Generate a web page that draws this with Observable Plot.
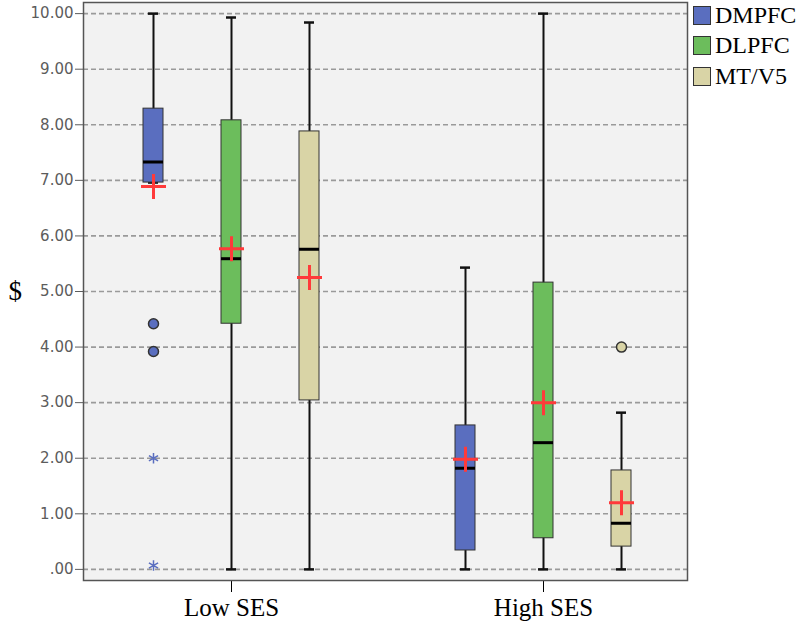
<!DOCTYPE html>
<html>
<head>
<meta charset="utf-8">
<script src="https://cdn.jsdelivr.net/npm/d3@7"></script>
<script src="https://cdn.jsdelivr.net/npm/@observablehq/plot@0.6"></script>
<style>
  html, body { margin: 0; padding: 0; background: #fff; }
  #wrap { position: relative; width: 800px; height: 624px; }
  #legend { position: absolute; left: 693px; top: 0px; font-family: "Liberation Serif", serif; font-size: 24px; color: #000; }
  #legend .item { display: flex; align-items: center; height: 30.5px; white-space: nowrap; }
  #legend .sw { width: 18px; height: 19px; border: 1px solid #333; margin-right: 4px; box-sizing: border-box; flex: none; }
</style>
</head>
<body>
<div id="wrap"><div id="legend"></div></div>
<script>
// ---- data ----
const groups = ["Low SES", "High SES"];
const regions = ["DMPFC", "DLPFC", "MT/V5"];
const regionColors = ["#5a6ebf", "#6cbd5c", "#d9d4a6"];
// box stats, ordered Low SES (DMPFC, DLPFC, MT/V5), High SES (DMPFC, DLPFC, MT/V5)
const whiskerLow  = [6.96, 0.00, 0.00, 0.00, 0.00, 0.00];
const quartile1   = [6.96, 4.42, 3.04, 0.34, 0.56, 0.41];
const medians     = [7.33, 5.59, 5.76, 1.82, 2.28, 0.83];
const quartile3   = [8.29, 8.08, 7.88, 2.59, 5.16, 1.78];
const whiskerHigh = [10.00, 9.93, 9.84, 5.43, 10.00, 2.82];
const means       = [6.89, 5.77, 5.25, 1.98, 3.00, 1.20];
// outliers (circles)
const outlierGroup  = ["Low SES", "Low SES", "High SES"];
const outlierRegion = ["DMPFC", "DMPFC", "MT/V5"];
const outlierValue  = [4.42, 3.92, 4.00];
// extreme values (stars)
const extremeGroup  = ["Low SES", "Low SES"];
const extremeRegion = ["DMPFC", "DMPFC"];
const extremeValue  = [2.00, 0.07];
// y axis ticks
const yTicks = [0, 1, 2, 3, 4, 5, 6, 7, 8, 9, 10];
const yTickLabels = [".00", "1.00", "2.00", "3.00", "4.00", "5.00", "6.00", "7.00", "8.00", "9.00", "10.00"];
const yLabel = "$";

// ---- build tables ----
const keyOf = (g, r) => g + "|" + r;
const boxes = groups.flatMap((g, i) => regions.map((r, j) => {
  const k = i * 3 + j;
  return {group: g, region: r, key: keyOf(g, r), lo: whiskerLow[k], q1: quartile1[k], med: medians[k], q3: quartile3[k], hi: whiskerHigh[k], mean: means[k]};
}));
const outliers = outlierValue.map((v, i) => ({key: keyOf(outlierGroup[i], outlierRegion[i]), region: outlierRegion[i], value: v}));
const extremes = extremeValue.map((v, i) => ({key: keyOf(extremeGroup[i], extremeRegion[i]), region: extremeRegion[i], value: v}));
const xDomain = [...regions.map(r => keyOf(groups[0], r)), "gap", ...regions.map(r => keyOf(groups[1], r))];
const groupTicks = groups.map(g => keyOf(g, regions[1]));

const cross = {
  draw(ctx, size) {
    const r = Math.sqrt(size / Math.PI);
    ctx.moveTo(-r, 0); ctx.lineTo(r, 0);
    ctx.moveTo(0, -r); ctx.lineTo(0, r);
  }
};

const chart = Plot.plot({
  width: 800,
  height: 624,
  marginLeft: 83,
  marginRight: 113,
  marginTop: 2,
  marginBottom: 44,
  style: {background: "transparent", overflow: "visible"},
  x: {type: "band", domain: xDomain, paddingInner: 0.745, paddingOuter: 0.728, align: 0.52, axis: null},
  y: {domain: [-0.2, 10.2], axis: null},
  color: {domain: regions, range: regionColors},
  marks: [
    Plot.frame({fill: "#f2f2f2", stroke: "none"}),
    Plot.ruleY(yTicks, {stroke: "#9a9a9a", strokeWidth: 1.6, strokeDasharray: "5,3"}),
    Plot.ruleX(boxes, {x: "key", y1: "lo", y2: "hi", stroke: "#111", strokeWidth: 2}),
    Plot.tickY(boxes, {x: "key", y: "lo", stroke: "#111", strokeWidth: 2.5, insetLeft: 5, insetRight: 5}),
    Plot.tickY(boxes, {x: "key", y: "hi", stroke: "#111", strokeWidth: 2.5, insetLeft: 5, insetRight: 5}),
    Plot.barY(boxes, {x: "key", y1: "q1", y2: "q3", fill: "region", stroke: "#333", strokeWidth: 1}),
    Plot.tickY(boxes, {x: "key", y: "med", stroke: "#000", strokeWidth: 3}),
    Plot.dot(outliers, {x: "key", y: "value", fill: "region", stroke: "#333", strokeWidth: 1.5, r: 5}),
    Plot.dot(extremes, {x: "key", y: "value", symbol: "asterisk", stroke: regionColors[0], strokeWidth: 1.5, r: 5}),
    Plot.dot(boxes, {x: "key", y: "mean", symbol: cross, r: 12.5, fill: "none", stroke: "#ff3a3a", strokeWidth: 3}),
    Plot.axisY({ticks: yTicks, tickFormat: d => yTickLabels[yTicks.indexOf(d)], tickSize: 8, tickPadding: 2, fontSize: 15, fontFamily: "DejaVu Sans", color: "#5c5c5c", label: null}),
    Plot.axisX({ticks: groupTicks, tickFormat: k => k.split("|")[0], tickSize: 12, tickPadding: 6, fontSize: 25, fontFamily: "Liberation Serif", color: "#000", label: null}),
    Plot.text([yLabel], {frameAnchor: "left", dx: -75, textAnchor: "start", fontSize: 27, fontFamily: "Liberation Serif", fill: "#000"}),
    Plot.frame({stroke: "#555", strokeWidth: 1.5})
  ]
});
document.getElementById("wrap").prepend(chart);

const legend = document.getElementById("legend");
regions.forEach((r, i) => {
  const item = document.createElement("div");
  item.className = "item";
  const sw = document.createElement("div");
  sw.className = "sw";
  sw.style.background = regionColors[i];
  const label = document.createElement("span");
  label.textContent = r;
  item.appendChild(sw);
  item.appendChild(label);
  legend.appendChild(item);
});
</script>
</body>
</html>
